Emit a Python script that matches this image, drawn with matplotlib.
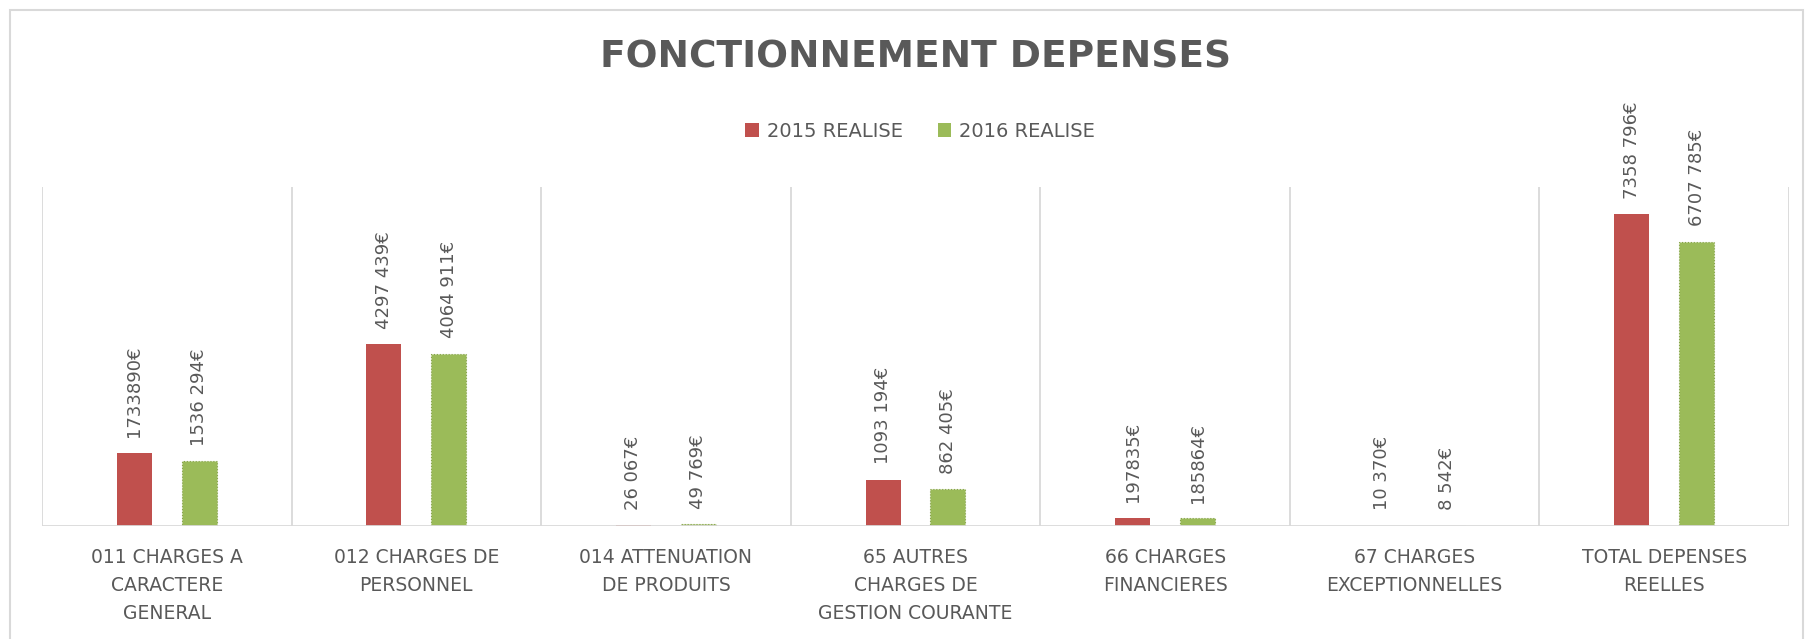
import matplotlib
matplotlib.use("Agg")
import matplotlib.pyplot as plt
from matplotlib.patches import Rectangle, Patch
import numpy as np

# data
categories = [
    "011 CHARGES A\nCARACTERE\nGENERAL",
    "012 CHARGES DE\nPERSONNEL",
    "014 ATTENUATION\nDE PRODUITS",
    "65 AUTRES\nCHARGES DE\nGESTION COURANTE",
    "66 CHARGES\nFINANCIERES",
    "67 CHARGES\nEXCEPTIONNELLES",
    "TOTAL DEPENSES\nREELLES",
]
realise_2015 = [1733890, 4297439, 26067, 1093194, 197835, 10370, 7358796]
realise_2016 = [1536294, 4064911, 49769, 862405, 185864, 8542, 6707785]
labels_2015 = ["1733890€", "4297 439€", "26 067€", "1093 194€", "197835€", "10 370€", "7358 796€"]
labels_2016 = ["1536 294€", "4064 911€", "49 769€", "862 405€", "185864€", "8 542€", "6707 785€"]
series_names = ["2015 REALISE", "2016 REALISE"]

RED, GREEN = "#C0504D", "#9BBB59"
TXT = "#595959"
GRID = "#d9d9d9"

W, H = 1806, 639
fig = plt.figure(figsize=(W / 100, H / 100), dpi=100)
ax = fig.add_axes([42 / W, 113 / H, 1747 / W, 339 / H])

x = np.arange(len(categories))
bw, off = 0.14, 0.13
ax.bar(x - off, realise_2015, bw, color=RED, lw=0, zorder=3)
ax.bar(x + off, realise_2016, bw, color=GREEN, edgecolor="#86a34a", lw=0.8, ls=":", zorder=3)

for xs, vals, labs in ((x - off, realise_2015, labels_2015), (x + off, realise_2016, labels_2016)):
    for xi, v, lab in zip(xs, vals, labs):
        ax.annotate(lab, (xi, v), xytext=(0, 11), textcoords="offset points",
                    rotation=90, ha="center", va="bottom", fontsize=13,
                    color=TXT, annotation_clip=False)

ax.set_xlim(-0.5, len(categories) - 0.5)
ax.set_ylim(0, 8000000)
for b in np.arange(len(categories) + 1) - 0.5:
    ax.axvline(b, color=GRID, lw=1.3, zorder=1)
ax.axhline(0, color=GRID, lw=2, zorder=4)
for s in ax.spines.values():
    s.set_visible(False)
ax.set_yticks([])
ax.set_xticks(x)
ax.set_xticklabels(categories, fontsize=13.5, color=TXT, linespacing=1.6)
ax.tick_params(axis="x", length=0, pad=16)

fig.text(916 / W, 1 - 58 / H, "FONCTIONNEMENT DEPENSES", ha="center", va="center",
         fontsize=27, fontweight="bold", color=TXT)

handles = [Patch(facecolor=RED), Patch(facecolor=GREEN)]
fig.legend(handles, series_names, loc="center", bbox_to_anchor=(920 / W, 1 - 131 / H),
           ncol=2, frameon=False, fontsize=14, labelcolor=TXT, handlelength=0.7,
           handleheight=0.7, handletextpad=0.4, columnspacing=1.8)

fig.patches.append(Rectangle((10 / W, -0.02), 1793 / W, 1 - 10 / H + 0.02,
                             transform=fig.transFigure, fill=False, edgecolor=GRID, lw=1.5))

fig.savefig("out.png", dpi=100, facecolor="white")
